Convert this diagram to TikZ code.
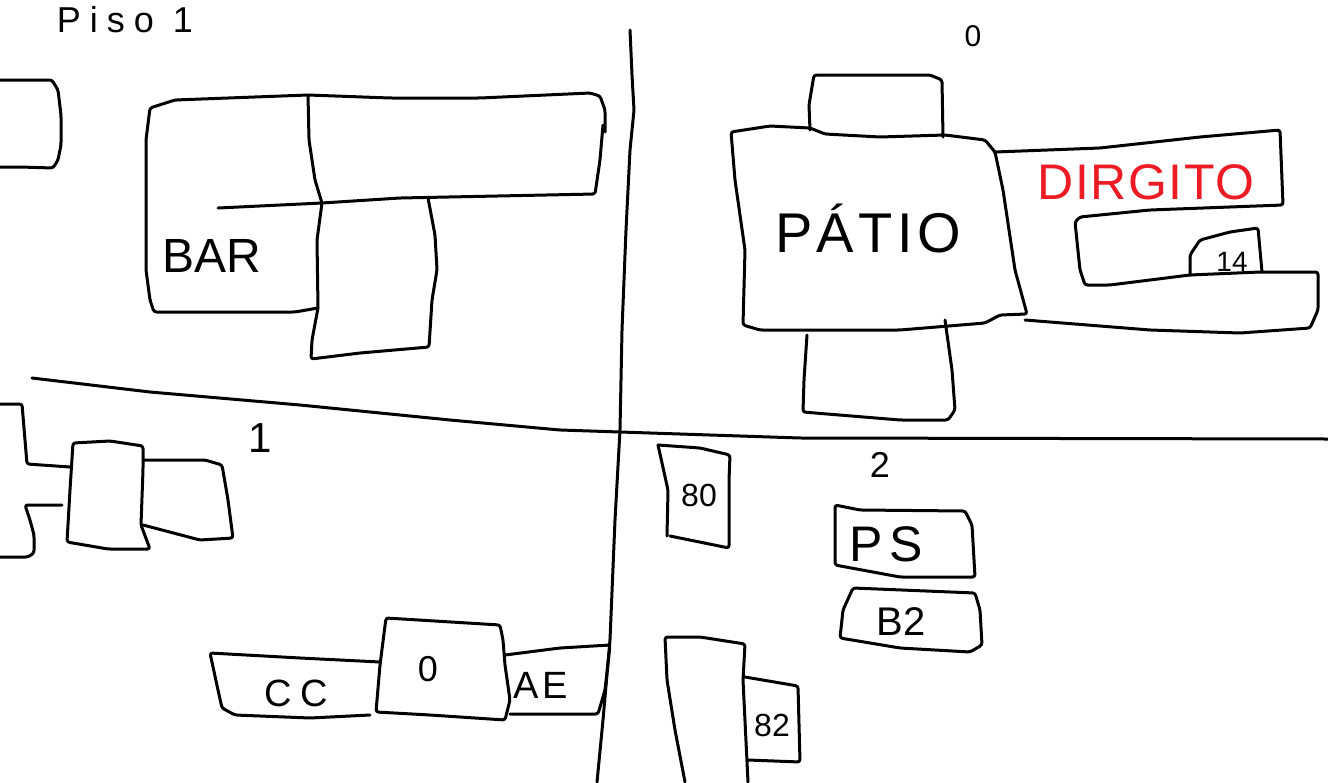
\documentclass[tikz,border=0pt]{standalone}
\usepackage{fontspec}
\setmainfont{Liberation Sans}
\definecolor{redpen}{RGB}{237,28,36}
\tikzset{
  wall/.style={line width=3pt,rounded corners=2.5pt,line join=round,line cap=round},
  lbl/.style={inner sep=0pt,text=black},
  smalltxt/.style={lbl,font=\fontsize{32}{32}\selectfont},
  midtxt/.style={lbl,font=\fontsize{42}{42}\selectfont\addfontfeatures{LetterSpace=12}},
  bigtxt/.style={lbl,font=\fontsize{56}{56}\selectfont}
}
\begin{document}
\begin{tikzpicture}[x=1pt,y=-1pt]
	\useasboundingbox (0,0) rectangle (1328,782);
	% top left
	\draw[wall] (0,80) -- (52,80) -- (58,90) -- (61,115) -- (61,145) -- (58,160) -- (53,168) -- (20,167) -- (0,167);
	\draw[wall] (605,132) -- (605,110) -- (600,96) -- (590,93) -- (480,98) -- (390,98) -- (308,95) -- (175,100) -- (150,108) -- (146,140) -- (146,270) -- (150,300) -- (154,312) -- (295,312) -- (318,308);
	\draw[wall] (603,125) -- (600,160) -- (595,194) -- (400,198) -- (322,203) -- (218,208);
	\draw[wall] (308,95) -- (309,140) -- (315,180) -- (322,203) -- (317,240) -- (318,308) -- (312,340) -- (311,359) -- (360,353) -- (429,347) -- (432,300) -- (437,270) -- (435,235) -- (428,198);
	% walls
	\draw[wall] (630,30) -- (632,75) -- (634,110) -- (630,150) -- (626,230) -- (622,330) -- (620,430) -- (615,520) -- (610,640) -- (603,720) -- (597,782);
	\draw[wall] (32,378) -- (150,392) -- (300,405) -- (450,420) -- (560,430) -- (620,432) -- (800,438) -- (1328,439);
	% top right
	\draw[wall] (731,132) -- (770,126) -- (810,128) -- (825,134) -- (880,137) -- (945,135) -- (985,140) -- (995,152) -- (1003,190) -- (1015,270) -- (1027,314) -- (1000,315) -- (985,323) -- (900,330) -- (760,330) -- (743,325) -- (745,250) -- (735,180) -- cycle;
	\draw[wall] (810,130) -- (809,105) -- (814,75) -- (930,75) -- (942,80) -- (943,137);
	\draw[wall] (807,335) -- (804,380) -- (803,412) -- (900,420) -- (948,420) -- (955,410) -- (952,370) -- (945,320);
	\draw[wall] (995,152) -- (1100,148) -- (1200,137) -- (1280,130) -- (1283,205) -- (1150,210) -- (1080,217) -- (1075,222) -- (1080,270) -- (1085,285) -- (1110,285) -- (1190,275) -- (1260,272) -- (1318,272) -- (1318,310) -- (1310,328) -- (1240,333) -- (1150,330) -- (1025,320);
	\draw[wall] (1190,275) -- (1190,255) -- (1200,240) -- (1230,232) -- (1258,228) -- (1262,272);
	% bottom left
	\draw[wall] (0,404) -- (22,404) -- (25,440) -- (27,464) -- (70,467);
	\draw[wall] (62,505) -- (25,505) -- (30,520) -- (34,535) -- (34,553) -- (28,557) -- (0,557);
	\draw[wall] (73,443) -- (110,441) -- (143,446) -- (143,470) -- (141,525) -- (150,549) -- (108,549) -- (67,542) -- (70,490) -- cycle;
	\draw[wall] (143,460) -- (205,460) -- (222,465) -- (228,500) -- (233,538) -- (200,540) -- (143,525);
	\draw[wall] (380,662) -- (300,658) -- (210,653) -- (218,690) -- (222,708) -- (235,715) -- (310,718) -- (370,715);
	\draw[wall] (386,618) -- (500,625) -- (503,640) -- (505,665) -- (510,700) -- (505,720) -- (430,715) -- (376,712) -- (380,665) -- cycle;
	\draw[wall] (505,655) -- (560,648) -- (610,645) -- (605,690) -- (598,714) -- (510,714);
	% bottom right
	\draw[wall] (658,445) -- (700,448) -- (730,455) -- (729,480) -- (729,548) -- (670,536);
	\draw[wall] (658,445) -- (668,490) -- (667,536);
	\draw[wall] (835,505) -- (860,510) -- (965,511) -- (972,525) -- (975,577) -- (900,577) -- (835,565) -- cycle;
	\draw[wall] (853,588) -- (975,593) -- (980,610) -- (982,645) -- (970,652) -- (900,648) -- (840,638) -- (843,610) -- cycle;
	\draw[wall] (685,782) -- (675,730) -- (667,680) -- (665,637) -- (700,637) -- (745,644) -- (743,680) -- (748,782);
	\draw[wall] (745,677) -- (798,686) -- (800,762) -- (748,760);
	% labels
	\node[lbl,font=\fontsize{36}{36}\selectfont\addfontfeatures{LetterSpace=25}] (piso) at (125,20) {Piso 1};
	\node[lbl,font=\fontsize{30}{30}\selectfont] (zero) at (973,36) {0};
	\node[bigtxt,font=\fontsize{56}{56}\selectfont\addfontfeatures{LetterSpace=8}] (patio) at (868,228) {PÁTIO};
	\node[lbl,text=redpen,font=\fontsize{50}{50}\selectfont\addfontfeatures{LetterSpace=3}] (dirgito) at (1146,182) {DIRGITO};
	\node[bigtxt,font=\fontsize{48}{48}\selectfont] (bar) at (212,256) {BAR};
	\node[smalltxt,font=\fontsize{28}{28}\selectfont] (catorce) at (1232,262) {14};
	\node[midtxt] (uno) at (260,438) {1};
	\node[smalltxt,font=\fontsize{36}{36}\selectfont] (dos) at (880,465) {2};
	\node[smalltxt] (ochenta) at (699,495) {80};
	\node[midtxt,font=\fontsize{50}{50}\selectfont\addfontfeatures{LetterSpace=12}] (ps) at (886,544) {PS};
	\node[midtxt,font=\fontsize{40}{40}\selectfont] (bdos) at (901,622) {B2};
	\node[smalltxt] (ochdos) at (772,725) {82};
	\node[midtxt,font=\fontsize{38}{38}\selectfont\addfontfeatures{LetterSpace=22}] (cc) at (296,693) {CC};
	\node[midtxt,font=\fontsize{36}{36}\selectfont] (cero) at (428,669) {0};
	\node[midtxt,font=\fontsize{38}{38}\selectfont\addfontfeatures{LetterSpace=10}] (ae) at (541,685) {AE};
\end{tikzpicture}
\end{document}
